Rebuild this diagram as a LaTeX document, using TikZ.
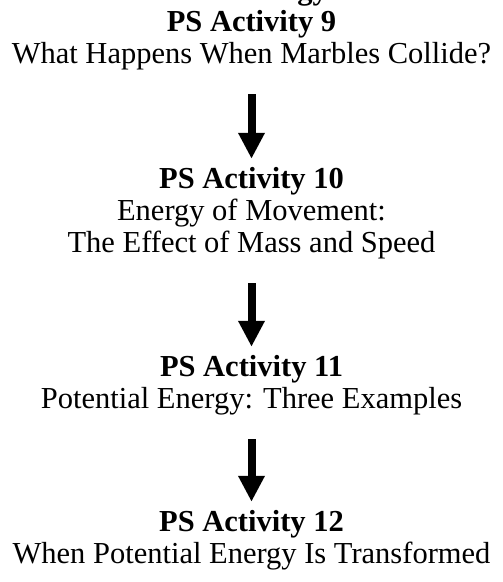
\documentclass[tikz,border=0pt]{standalone}
\usepackage{fontspec}
\setmainfont{Liberation Serif}
\usepackage{tikz}
\usetikzlibrary{arrows.meta}

\tikzset{
  line/.style = {inner sep=0pt, anchor=base, font=\fontsize{30.5}{32}\selectfont,
                 text height=21pt, text depth=7pt},
  head/.style = {line, font=\fontsize{30.5}{32}\selectfont\bfseries},
  bigarrow/.style = {line width=8pt, -{Triangle[length=26pt,width=25pt]},
                     shorten <=24pt, shorten >=8pt}
}

\begin{document}
\begin{tikzpicture}[x=1pt,y=-1pt]
    \useasboundingbox (0,0) rectangle (503,582);
    \clip (0,0) rectangle (503,582);

    % title, cut off at the top edge
    \node[head, anchor=base east] (title) at (328,-1) {Energy};

    % activities
    \node[head] (h9)  at (251.5,31)  {PS Activity 9};
    \node[line] (d9)  at (251.5,63)  {What Happens When Marbles Collide?};

    \node[head] (h10) at (251.5,188) {PS Activity 10};
    \node[line] (d10a) at (251.5,220) {Energy of Movement:};
    \node[line] (d10b) at (251.5,252) {The Effect of Mass and Speed};

    \node[head] (h11) at (251.5,376) {PS Activity 11};
    \node[line] (d11) at (251.5,408) {Potential Energy: Three Examples};

    \node[head] (h12) at (251.5,531) {PS Activity 12};
    \node[line] (d12) at (251.5,563) {When Potential Energy Is Transformed};

    % arrows between them
    \draw[bigarrow] (d9) -- (h10);
    \draw[bigarrow] (d10b) -- (h11);
    \draw[bigarrow] (d11) -- (h12);
\end{tikzpicture}
\end{document}
